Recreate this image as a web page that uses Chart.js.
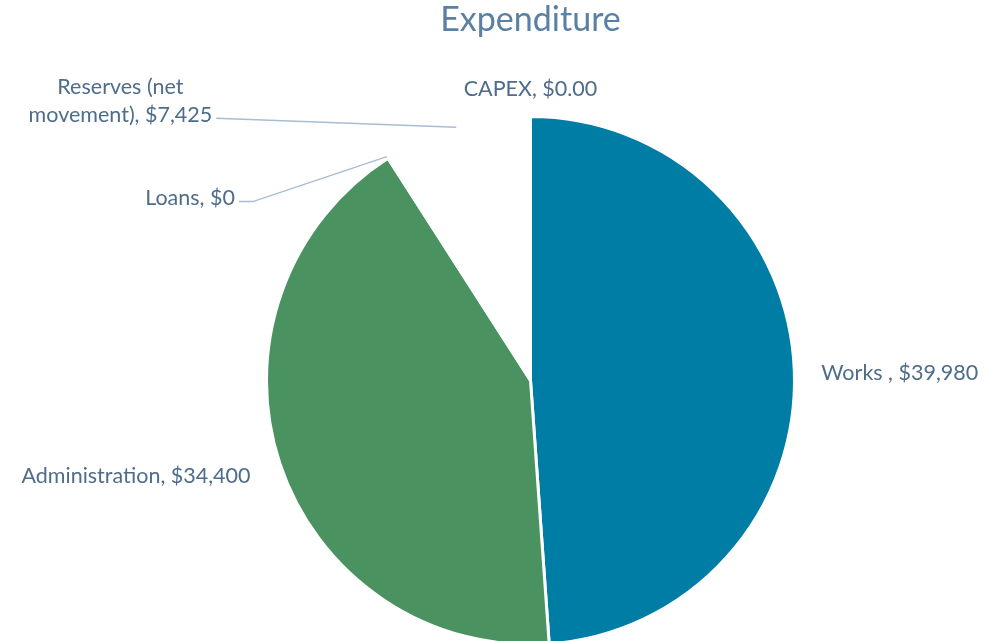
<!DOCTYPE html>
<html>
<head>
<meta charset="utf-8">
<title>Expenditure</title>
<script src="https://cdn.jsdelivr.net/npm/chart.js@4.4.1/dist/chart.umd.min.js"></script>
<style>
  html, body { margin: 0; padding: 0; background: #fff; overflow: hidden; }
  #wrap { width: 995px; height: 660px; }
</style>
</head>
<body>
<div id="wrap"><canvas id="chart" width="995" height="660"></canvas></div>
<script>
// chart data
const categories = ['Works ', 'Administration', 'Loans', 'Reserves (net movement)', 'CAPEX'];
const amounts = [39980, 34400, 0, 7425, 0];
const amountDecimals = [0, 0, 0, 0, 2];
const sliceColors = ['#007DA5', '#4A9360', '#FFFFFF', '#FFFFFF', '#FFFFFF'];

// where each data label sits relative to its slice
const labelPlacement = [
    { gap: 27, align: 'left' },
    { gap: 31, align: 'right' },
    { gap: 2, leader: [-134, 45], tail: 14, align: 'right' },
    { gap: 0, leader: [-240, -9], tail: 0, align: 'center', wrap: 195 },
    { gap: 30, align: 'center' }
];

const labelFont = '21.5px Lato';
const labelColor = '#4E6C8B';
const leaderColor = '#A7BDD2';
const lineHeight = 28;
const textShift = 2.5; // Lato 'middle' sits a little high

function money(v, d) {
    return '$' + v.toLocaleString('en-US', { minimumFractionDigits: d, maximumFractionDigits: d });
}

// 단어 단위 줄바꿈
function wrapText(ctx, text, maxW) {
    if (!maxW) return [text];
    const words = text.split(' ');
    const lines = [];
    let cur = '';
    words.forEach(w => {
        const test = cur ? cur + ' ' + w : w;
        if (cur && ctx.measureText(test).width > maxW) {
            lines.push(cur);
            cur = w;
        } else {
            cur = test;
        }
    });
    if (cur) lines.push(cur);
    return lines;
}

const outsideLabels = {
    id: 'outsideLabels',
    afterDatasetsDraw(chart) {
        const ctx = chart.ctx;
        const meta = chart.getDatasetMeta(0);
        ctx.save();
        ctx.font = labelFont;
        ctx.fillStyle = labelColor;
        ctx.textBaseline = 'middle';
        meta.data.forEach((arc, i) => {
            const p = labelPlacement[i];
            const { x, y, startAngle, endAngle, outerRadius } =
                arc.getProps(['x', 'y', 'startAngle', 'endAngle', 'outerRadius'], true);
            const mid = (startAngle + endAngle) / 2;
            const r = outerRadius + p.gap;
            const sx = x + Math.cos(mid) * r;
            const sy = y + Math.sin(mid) * r;
            const text = categories[i] + ', ' + money(amounts[i], amountDecimals[i]);
            const lines = wrapText(ctx, text, p.wrap);

            if (p.leader) {
                const ex = sx + p.leader[0];
                const ey = sy + p.leader[1];
                const tx = ex - p.tail;
                ctx.strokeStyle = leaderColor;
                ctx.lineWidth = 1.5;
                ctx.beginPath();
                ctx.moveTo(sx, sy);
                ctx.lineTo(ex, ey);
                ctx.lineTo(tx, ey);
                ctx.stroke();

                const maxW = Math.max(...lines.map(l => ctx.measureText(l).width));
                const right = tx - 4;
                ctx.textAlign = p.align;
                const lx = p.align === 'center' ? right - maxW / 2 : right;
                const lastY = ey - 6 + textShift;
                lines.forEach((l, k) => {
                    ctx.fillText(l, lx, lastY - (lines.length - 1 - k) * lineHeight);
                });
            } else {
                ctx.textAlign = p.align;
                lines.forEach((l, k) => {
                    ctx.fillText(l, sx, sy + textShift + (k - (lines.length - 1) / 2) * lineHeight);
                });
            }
        });
        ctx.restore();
    }
};

const chart = new Chart(document.getElementById('chart'), {
    type: 'pie',
    data: {
        labels: categories,
        datasets: [{
            data: amounts,
            backgroundColor: sliceColors,
            borderColor: '#FFFFFF',
            borderWidth: 3
        }]
    },
    options: {
        responsive: false,
        animation: false,
        layout: {
            padding: { left: 66, right: 0, top: 0, bottom: 14 }
        },
        plugins: {
            legend: { display: false },
            tooltip: { enabled: false },
            title: {
                display: true,
                text: 'Expenditure',
                color: '#5A80A4',
                font: { family: 'Lato', size: 34, weight: 'normal', lineHeight: 1 },
                padding: { top: 3, bottom: 78 }
            }
        }
    },
    plugins: [outsideLabels]
});
</script>
</body>
</html>
